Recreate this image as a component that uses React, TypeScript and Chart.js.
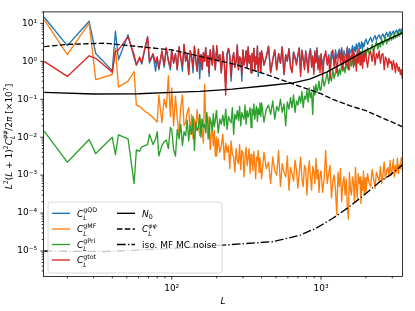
import { useEffect, useRef } from 'react';
import { Chart, registerables } from 'chart.js';

Chart.register(...registerables);

// ---- data ----
const multipoles = [
  14, 20, 28, 31, 40, 42, 44, 51, 56, 58, 61, 63, 66, 69, 71, 75, 78, 80, 82, 86, 89, 92, 95, 98,
  100, 103, 106, 109, 112, 115, 118, 121, 124, 127, 130, 133, 136, 139, 142, 145, 148, 151, 154, 157,
  160, 163, 166, 169, 172, 175, 178, 181, 184, 187, 190, 193, 196, 199,
  200, 205, 210, 215, 220, 225, 230, 235, 240, 245, 250, 255, 260, 265, 270, 275, 280, 285, 290, 295,
  300, 305, 310, 315, 320, 325, 330, 335, 340, 345, 350, 355, 360, 365, 370, 375, 380, 385, 390, 395,
  400, 415, 430, 445, 460, 475, 490, 505, 520, 535, 550, 565, 580, 595, 610, 625, 640, 655, 670, 685,
  700, 715, 730, 745, 760, 775, 790, 805, 820, 835, 850, 865, 880, 895, 910, 925, 940, 955, 970, 985,
  1000, 1025, 1050, 1075, 1100, 1125, 1150, 1175, 1200, 1225, 1250, 1275, 1300, 1325, 1350, 1375, 1400, 1425, 1450, 1475,
  1500, 1525, 1550, 1575, 1600, 1625, 1650, 1675, 1700, 1725, 1750, 1775, 1800, 1825, 1850, 1875, 1900, 1925, 1950, 1975,
  2000, 2050, 2100, 2150, 2200, 2250, 2300, 2350, 2400, 2450, 2500, 2550, 2600, 2650, 2700, 2750,
  2800, 2850, 2900, 2950, 3000, 3050, 3100, 3150, 3200, 3250, 3300, 3350, 3400, 3450, 3500,
];

const clQD = [
  14.5, 2.6, 11.4, 1.6, 0.57, 6.2, 1.1, 5.0, 1.24, 0.8, 1.2, 0.85, 2.0, 4.2, 0.9, 1.5, 0.55, 1.3, 0.6, 1.8, 0.7, 2.2, 1.0, 0.6,
  2.0, 0.9, 1.6, 0.6, 2.4, 1.2, 0.55, 2.8, 1.0, 1.5, 0.45, 1.9, 1.3, 0.5, 2.5, 1.1, 0.55, 2.1, 0.35, 1.5,
  0.6, 1.7, 1.0, 2.3, 0.75, 1.4, 0.4, 2.0, 1.2, 0.8, 2.6, 1.1, 0.6, 1.8,
  2.6, 1.0, 1.5, 0.5, 1.8, 0.9, 0.25, 1.6, 2.2, 1.4, 0.3, 1.1, 1.7, 0.7, 1.0, 2.7, 0.6, 1.3, 1.2, 0.3,
  2.0, 0.8, 1.1, 1.9, 0.7, 2.4, 0.9, 1.4, 0.5, 1.6, 1.0, 2.2, 0.6, 1.3, 0.85, 2.5, 0.4, 1.2, 1.7, 0.5,
  1.9, 0.8, 1.3, 2.5, 0.5, 1.1, 2.0, 0.6, 1.6, 0.9, 2.4, 0.45, 1.5, 1.0, 2.2, 0.75, 0.55, 1.8, 1.3, 0.9,
  1.5, 2.3, 0.5, 2.0, 1.2, 0.7, 1.9, 1.1, 0.6, 1.6, 2.2, 0.8, 1.4, 0.55, 1.9, 1.0, 2.3, 0.7, 1.4, 0.65,
  1.5, 0.8, 1.4, 1.6, 1.0, 1.5, 0.7, 1.8, 1.3, 0.9, 2.0, 1.2, 1.6, 2.1, 1.3, 2.3, 1.0, 1.9, 1.5, 1.2,
  2.4, 1.4, 2.2, 1.7, 1.9, 2.6, 1.5, 2.4, 1.8, 2.9, 2.0, 2.7, 3.1, 2.2, 2.6, 3.3, 2.1, 3.0, 2.5, 3.5,
  3.9, 2.8, 3.6, 4.3, 3.2, 4.0, 4.8, 3.6, 4.5, 5.0, 3.9, 4.7, 5.3, 4.2, 5.0, 5.8,
  4.5, 5.4, 6.1, 4.8, 5.6, 6.3, 5.1, 6.0, 6.7, 5.4, 6.4, 7.1, 5.8, 6.9, 7.4,
];

const clMF = [
  12.5, 1.5, 10.2, 0.33, 0.45, 2.2, 0.21, 0.3, 0.54, 0.07, 0.065, 0.058, 0.048, 0.044, 0.04, 0.033, 0.028, 0.025, 0.13, 0.024, 0.1, 0.06, 0.41, 0.035,
  0.2, 0.02, 0.12, 0.03, 0.013, 0.06, 0.13, 0.02, 0.024, 0.045, 0.06, 0.012, 0.04, 0.009, 0.03, 0.015, 0.053, 0.022, 0.011, 0.03,
  0.015, 0.007, 0.25, 0.025, 0.02, 0.009, 0.035, 0.0047, 0.012, 0.018, 0.006, 0.015, 0.0032, 0.01,
  0.0032, 0.009, 0.004, 0.006, 0.012, 0.0025, 0.007, 0.004, 0.006, 0.0015, 0.008, 0.0035, 0.003, 0.0012, 0.005, 0.0025, 0.002, 0.0065, 0.0014, 0.0045,
  0.004, 0.0009, 0.003, 0.0055, 0.0018, 0.0028, 0.005, 0.0011, 0.0035, 0.0022, 0.0013, 0.0042, 0.0019, 0.0008, 0.003, 0.0024, 0.0045, 0.0012, 0.0028, 0.0016,
  0.0008, 0.004, 0.0015, 0.0022, 0.0006, 0.003, 0.0013, 0.001, 0.0045, 0.0005, 0.002, 0.0012, 0.0009, 0.0032, 0.0004, 0.0016, 0.0011, 0.0007, 0.0025, 0.0014,
  0.00045, 0.0012, 0.003, 0.0008, 0.0005, 0.0018, 0.0015, 0.0003, 0.0011, 0.0024, 0.0009, 0.0004, 0.0017, 0.0012, 0.0006, 0.0028, 0.0008, 0.0014, 0.00035, 0.001,
  0.0013, 0.00035, 0.0008, 0.0045, 0.0006, 0.0011, 0.0018, 0.00025, 0.0007, 0.001, 0.0004, 0.00009, 0.0012, 0.0005, 0.0015, 0.0002, 0.0006, 0.0009, 0.0003, 0.0008,
  0.00015, 0.00007, 0.0012, 0.0004, 0.0003, 0.0009, 0.00065, 0.0002, 0.0016, 0.0005, 0.00025, 0.0011, 0.0006, 0.0009, 0.00018, 0.0007, 0.0004, 0.0013, 0.0003, 0.00085,
  0.00035, 0.0011, 0.0006, 0.0005, 0.0014, 0.0008, 0.00045, 0.0012, 0.0009, 0.0007, 0.0017, 0.0006, 0.0011, 0.0022, 0.0008, 0.0013,
  0.0016, 0.0009, 0.0024, 0.001, 0.0014, 0.0026, 0.0009, 0.0018, 0.0012, 0.0028, 0.0011, 0.0019, 0.0015, 0.0029, 0.0013,
];

const clPri = [
  0.0144, 0.0022, 0.0087, 0.0037, 0.01, 0.0035, 0.0116, 0.0091, 0.0006, 0.0046, 0.0043, 0.0056, 0.006, 0.0064, 0.0118, 0.0064, 0.009, 0.014, 0.0032, 0.006, 0.0075, 0.0085, 0.005, 0.018,
  0.016, 0.0047, 0.0032, 0.016, 0.009, 0.022, 0.006, 0.014, 0.011, 0.028, 0.008, 0.02, 0.012, 0.035, 0.0045, 0.025, 0.015, 0.018, 0.04, 0.01,
  0.03, 0.018, 0.022, 0.013, 0.045, 0.02, 0.009, 0.032, 0.024, 0.015, 0.042, 0.019, 0.028, 0.05,
  0.045, 0.013, 0.03, 0.022, 0.038, 0.02, 0.055, 0.016, 0.035, 0.028, 0.024, 0.06, 0.012, 0.04, 0.03, 0.05, 0.028, 0.065, 0.02, 0.045,
  0.035, 0.03, 0.07, 0.022, 0.05, 0.034, 0.042, 0.06, 0.018, 0.055, 0.038, 0.075, 0.03, 0.048, 0.065, 0.026, 0.058, 0.04, 0.08, 0.035,
  0.08, 0.025, 0.055, 0.07, 0.04, 0.09, 0.03, 0.065, 0.05, 0.1, 0.045, 0.075, 0.02, 0.085, 0.055, 0.11, 0.06, 0.13, 0.045, 0.09,
  0.07, 0.12, 0.08, 0.16, 0.06, 0.12, 0.1, 0.17, 0.085, 0.2, 0.11, 0.15, 0.04, 0.22, 0.13, 0.25, 0.15, 0.2, 0.3, 0.17,
  0.18, 0.4, 0.22, 0.32, 0.5, 0.26, 0.42, 0.3, 0.6, 0.35, 0.5, 0.75, 0.4, 0.62, 0.45, 0.9, 0.55, 0.7, 0.5, 1.1,
  0.65, 0.85, 0.6, 1.3, 0.75, 1.0, 1.5, 0.8, 1.2, 0.9, 1.6, 1.1, 1.35, 1.8, 1.0, 1.5, 2.0, 1.2, 1.7, 1.4,
  1.3, 2.3, 1.6, 2.0, 2.8, 1.8, 2.5, 3.3, 2.1, 2.9, 2.4, 3.9, 2.7, 3.3, 4.4, 2.9,
  3.8, 3.4, 5.0, 3.6, 4.3, 3.9, 5.6, 4.1, 4.8, 4.4, 6.0, 4.6, 5.3, 6.3, 5.0,
];

const clTot = [
  1.0, 0.4, 1.4, 1.2, 0.52, 1.8, 2.0, 4.4, 1.5, 0.8, 1.3, 0.9, 2.2, 4.5, 1.0, 1.6, 0.9, 1.3, 0.65, 1.9, 0.8, 2.3, 1.1, 0.7,
  2.0, 0.9, 1.6, 0.6, 2.4, 1.2, 0.8, 2.8, 1.0, 1.5, 0.45, 1.9, 1.3, 0.7, 2.5, 1.1, 0.55, 2.1, 0.9, 1.5,
  0.6, 1.7, 1.0, 2.3, 0.75, 1.4, 0.5, 2.0, 1.2, 0.8, 2.6, 1.1, 0.6, 1.8,
  2.6, 1.0, 1.5, 0.5, 1.8, 0.9, 0.13, 1.6, 2.2, 1.4, 0.4, 1.1, 1.7, 0.7, 1.0, 2.7, 0.6, 1.3, 1.2, 0.45,
  2.0, 0.8, 1.1, 1.9, 0.7, 2.4, 0.9, 1.4, 0.5, 1.6, 1.0, 2.2, 0.6, 1.3, 0.85, 2.5, 0.55, 1.2, 1.7, 0.5,
  1.9, 0.8, 1.3, 2.5, 0.5, 1.1, 2.0, 0.6, 1.6, 0.9, 2.4, 0.45, 1.5, 1.0, 2.1, 0.7, 0.5, 1.7, 1.2, 0.8,
  1.4, 2.2, 0.4, 1.9, 1.1, 0.6, 1.8, 1.0, 0.5, 1.5, 2.0, 0.7, 1.3, 0.45, 1.7, 0.9, 2.1, 0.6, 1.2, 0.5,
  1.6, 0.4, 1.2, 1.9, 0.8, 1.3, 0.35, 1.5, 2.0, 0.7, 1.5, 0.5, 1.1, 1.8, 0.9, 2.1, 0.6, 1.4, 1.0, 0.8,
  2.2, 0.6, 1.7, 1.0, 1.3, 2.0, 0.7, 1.6, 1.1, 0.55, 1.9, 0.9, 2.2, 0.8, 1.4, 1.7, 0.65, 1.5, 1.0, 2.0,
  2.0, 0.7, 1.5, 1.8, 1.0, 2.1, 0.8, 1.6, 1.2, 1.9, 0.9, 1.5, 1.6, 0.6, 1.3, 1.1,
  0.7, 1.2, 0.9, 1.0, 0.6, 1.05, 0.8, 0.5, 0.9, 0.75, 0.55, 0.7, 0.45, 0.6, 0.35,
];

const n0L = [14, 30, 60, 100, 155, 255, 430, 650, 840, 1090, 1400, 1800, 2350, 2900, 3500];
const n0 = [0.152, 0.138, 0.14, 0.152, 0.161, 0.186, 0.227, 0.27, 0.34, 0.52, 0.88, 1.55, 2.7, 4.0, 5.6];

const phiL = [14, 20, 36, 60, 100, 170, 270, 430, 720, 1000, 1200, 1550, 2000, 2500, 3000, 3500];
const clPhiPhi = [2.45, 2.8, 3.0, 2.45, 2.0, 1.25, 0.82, 0.45, 0.22, 0.14, 0.1, 0.068, 0.05, 0.034, 0.025, 0.019];

const isoL = [14, 36, 100, 220, 475, 720, 930, 1200, 1550, 2000, 2500, 2900, 3500];
const isoMF = [1.0e-5, 9.7e-6, 1.17e-5, 1.43e-5, 1.76e-5, 2.6e-5, 4.0e-5, 7.3e-5, 1.47e-4, 3.3e-4, 6.9e-4, 1.0e-3, 1.85e-3];

const xMin = 13.85;
const xMax = 3514;
const yMin = 2.13e-6;
const yMax = 20.1;

// ---- helpers ----
const FAM = "'DejaVu Sans', sans-serif";
const BASE = 9;
type Tok = { t: string; it?: boolean; sc?: number; dy?: number; noAdv?: boolean };

function setFont(ctx: CanvasRenderingContext2D, size: number, it?: boolean) {
  ctx.font = `${it ? 'italic ' : ''}${size}px ${FAM}`;
}
function layoutToks(ctx: CanvasRenderingContext2D, toks: Tok[], x0: number, y0: number, draw: boolean) {
  let x = x0;
  let pending = 0;
  for (const k of toks) {
    setFont(ctx, BASE * (k.sc ?? 1), k.it);
    const w = ctx.measureText(k.t).width;
    if (draw) ctx.fillText(k.t, x, y0 + (k.dy ?? 0));
    if (k.noAdv) pending = Math.max(pending, w);
    else {
      x += Math.max(w, pending);
      pending = 0;
    }
  }
  return x + pending - x0;
}

const SUP: Record<string, string> = { '-': '\u207B', '0': '\u2070', '1': '\u00B9', '2': '\u00B2', '3': '\u00B3', '4': '\u2074', '5': '\u2075', '6': '\u2076', '7': '\u2077', '8': '\u2078', '9': '\u2079' };
function powLabel(v: number) {
  const lg = Math.log10(v);
  const r = Math.round(lg);
  if (Math.abs(lg - r) > 1e-6) return '';
  return '10' + String(r).split('').map((c) => SUP[c]).join('');
}

const sub = (t: string): Tok => ({ t, it: true, sc: 0.7, dy: 3.2, noAdv: true });
const sup = (t: string, it = false): Tok => ({ t, it, sc: 0.7, dy: -4.6 });

const legendItems = [
  { col: 0, row: 0, color: '#1f77b4', dash: [] as number[], toks: [{ t: 'C', it: true }, sub('L'), sup('gQD')] },
  { col: 0, row: 1, color: '#ff7f0e', dash: [], toks: [{ t: 'C', it: true }, sub('L'), sup('gMF')] },
  { col: 0, row: 2, color: '#2ca02c', dash: [], toks: [{ t: 'C', it: true }, sub('L'), sup('gPri')] },
  { col: 0, row: 3, color: '#d62728', dash: [], toks: [{ t: 'C', it: true }, sub('L'), sup('gtot')] },
  { col: 1, row: 0, color: '#000000', dash: [], toks: [{ t: 'N', it: true }, { t: '0', sc: 0.7, dy: 2.4 }] },
  { col: 1, row: 1, color: '#000000', dash: [5.5, 2.3], toks: [{ t: 'C', it: true }, sub('L'), sup('\u03C6\u03C6', true)] },
  { col: 1, row: 2, color: '#000000', dash: [8.7, 2.2, 1.35, 2.2], toks: [{ t: 'iso. MF MC noise' }] },
];

const yTitle: Tok[] = [
  { t: 'L', it: true }, { t: '2', sc: 0.7, dy: -3.8 }, { t: '(' }, { t: 'L', it: true }, { t: ' + 1)' },
  { t: '2', sc: 0.7, dy: -3.8 }, { t: 'C', it: true }, sub('L'), sup('\u03C6\u03C6', true),
  { t: '/2' }, { t: '\u03C0', it: true }, { t: ' [\u00D710' }, { t: '7', sc: 0.7, dy: -3.8 }, { t: ']' },
];

const decoPlugin = {
  id: 'mplDeco',
  afterDatasetsDraw(chart: any) {
    const ctx: CanvasRenderingContext2D = chart.ctx;
    const a = chart.chartArea;
    const xs = chart.scales.x;
    const ys = chart.scales.y;
    ctx.save();
    ctx.strokeStyle = '#000';
    ctx.lineWidth = 0.8;
    ctx.setLineDash([]);
    ctx.strokeRect(a.left, a.top, a.right - a.left, a.bottom - a.top);
    ctx.beginPath();
    for (let e = 1; e <= 3; e++) {
      for (let m = 1; m <= 9; m++) {
        const v = m * Math.pow(10, e);
        if (v < xMin || v > xMax) continue;
        const px = xs.getPixelForValue(v);
        const len = m === 1 ? 3.2 : 1.8;
        ctx.moveTo(px, a.bottom);
        ctx.lineTo(px, a.bottom + len);
      }
    }
    for (let e = -6; e <= 1; e++) {
      for (let m = 1; m <= 9; m++) {
        const v = m * Math.pow(10, e);
        if (v < yMin || v > yMax) continue;
        const py = ys.getPixelForValue(v);
        const len = m === 1 ? 3.2 : 1.8;
        ctx.moveTo(a.left, py);
        ctx.lineTo(a.left - len, py);
      }
    }
    ctx.stroke();

    ctx.fillStyle = '#000';
    ctx.textBaseline = 'alphabetic';
    ctx.textAlign = 'left';
    setFont(ctx, BASE, true);
    const wL = ctx.measureText('L').width;
    ctx.fillText('L', (a.left + a.right) / 2 - wL / 2, 304);

    ctx.save();
    ctx.translate(11.5, 136.5);
    ctx.rotate(-Math.PI / 2);
    const tw = layoutToks(ctx, yTitle, 0, 0, false);
    layoutToks(ctx, yTitle, -tw / 2, 0, true);
    ctx.restore();

    const lx = 48, ly = 202, lw = 174, lh = 71;
    ctx.beginPath();
    (ctx as any).roundRect(lx, ly, lw, lh, 2.5);
    ctx.fillStyle = 'rgba(255,255,255,0.8)';
    ctx.fill();
    ctx.strokeStyle = 'rgba(204,204,204,0.8)';
    ctx.lineWidth = 0.9;
    ctx.stroke();
    const rowsY = [213.3, 229, 244.5, 260];
    const cols = [{ h0: 52, h1: 70, tx: 77 }, { h0: 117, h1: 135, tx: 142 }];
    for (const it of legendItems) {
      const c = cols[it.col];
      const y = rowsY[it.row];
      ctx.beginPath();
      ctx.strokeStyle = it.color;
      ctx.lineWidth = 1.35;
      ctx.setLineDash(it.dash);
      ctx.moveTo(c.h0, y);
      ctx.lineTo(c.h1, y);
      ctx.stroke();
      ctx.setLineDash([]);
      ctx.fillStyle = '#000';
      layoutToks(ctx, it.toks, c.tx, y + 3.4, true);
    }
    ctx.restore();
  },
};

function pts(xv: number[], yv: number[]) {
  return xv.map((x, i) => ({ x, y: yv[i] }));
}

export default function App() {
  const ref = useRef<HTMLCanvasElement | null>(null);
  useEffect(() => {
    if (!ref.current) return;
    const common = { pointRadius: 0, borderWidth: 1.35, fill: false, tension: 0, borderJoinStyle: 'round' as const };
    const tickFont = { family: FAM, size: 9 };
    const chart = new Chart(ref.current, {
      type: 'line',
      data: {
        datasets: [
          { ...common, label: 'QD', data: pts(multipoles, clQD), borderColor: '#1f77b4', order: 7 },
          { ...common, label: 'MF', data: pts(multipoles, clMF), borderColor: '#ff7f0e', order: 6 },
          { ...common, label: 'Pri', data: pts(multipoles, clPri), borderColor: '#2ca02c', order: 5 },
          { ...common, label: 'tot', data: pts(multipoles, clTot), borderColor: '#d62728', order: 4 },
          { ...common, label: 'N0', data: pts(n0L, n0), borderColor: '#000', order: 3 },
          { ...common, label: 'phiphi', data: pts(phiL, clPhiPhi), borderColor: '#000', borderDash: [5.5, 2.3], order: 2 },
          { ...common, label: 'iso', data: pts(isoL, isoMF), borderColor: '#000', borderDash: [8.7, 2.2, 1.35, 2.2], order: 1 },
        ],
      },
      options: {
        responsive: false,
        animation: false,
        devicePixelRatio: 1,
        events: [],
        layout: { padding: { left: 0, right: 12.5, top: 11.5, bottom: 0 } },
        plugins: { legend: { display: false }, tooltip: { enabled: false }, title: { display: false } },
        scales: {
          x: {
            type: 'logarithmic',
            min: xMin,
            max: xMax,
            grid: { display: false, drawTicks: false },
            border: { display: false },
            ticks: { autoSkip: false, maxRotation: 0, minRotation: 0, padding: 7, color: '#000', font: tickFont, callback: (v: any) => powLabel(Number(v)) },
            afterFit: (s: any) => { s.height = 34.5; },
          },
          y: {
            type: 'logarithmic',
            min: yMin,
            max: yMax,
            grid: { display: false, drawTicks: false },
            border: { display: false },
            ticks: { autoSkip: false, padding: 6.5, color: '#000', font: tickFont, callback: (v: any) => powLabel(Number(v)) },
            afterFit: (s: any) => { s.width = 43.5; },
          },
        },
      },
      plugins: [decoPlugin],
    } as any);
    return () => chart.destroy();
  }, []);
  return (
    <div style={{ position: 'fixed', left: 0, top: 0, width: 415, height: 311, background: '#fff' }}>
      <canvas ref={ref} width={415} height={311} style={{ display: 'block' }} />
    </div>
  );
}
